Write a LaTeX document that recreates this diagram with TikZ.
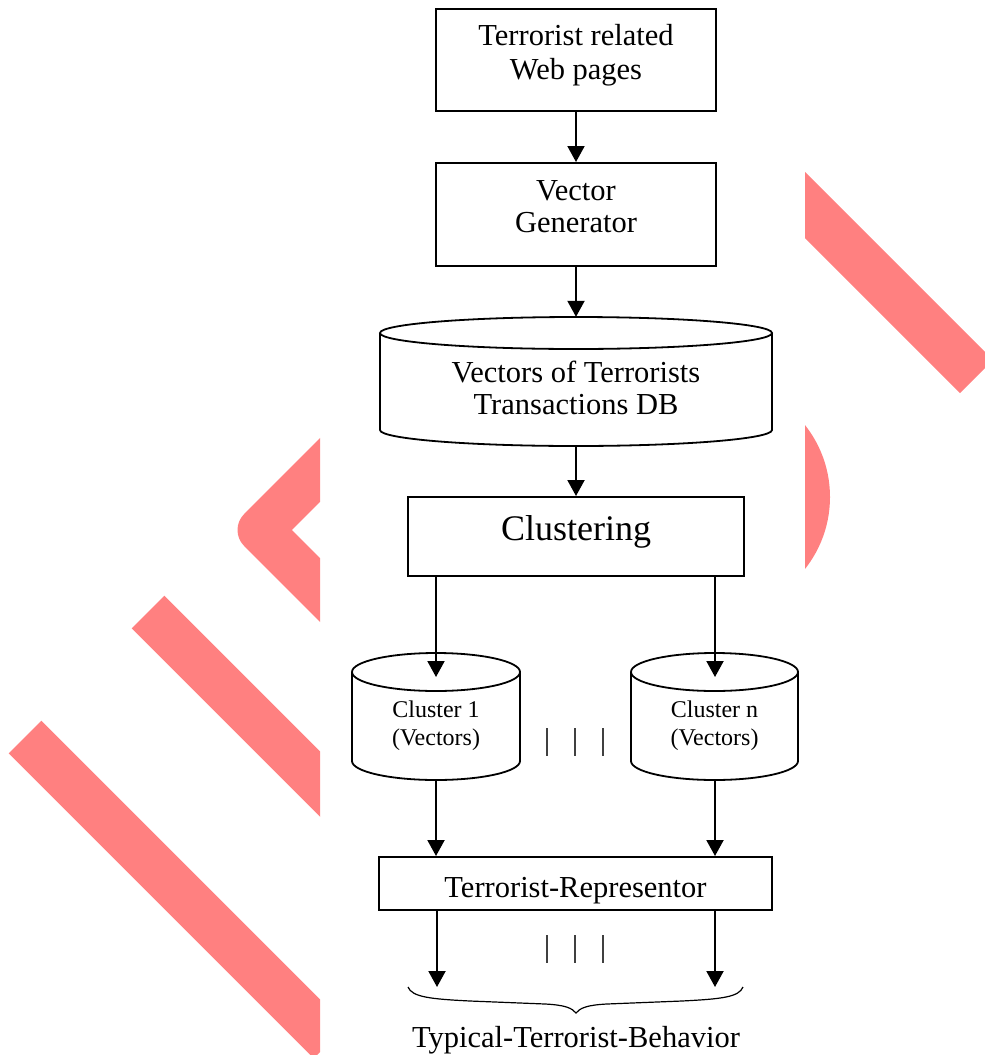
\documentclass[tikz,border=0pt]{standalone}
\usepackage{fontspec}
\setmainfont{Liberation Serif}
\usetikzlibrary{arrows.meta}
\definecolor{wm}{RGB}{255,128,128}
% cylinder outline: #1 cx, #2 rx, #3 y of top ellipse centre, #4 y of bottom arc centre, #5 ry
\newcommand\cylpath[5]{%
  \draw[cylline] (#1-#2,#3) .. controls (#1-#2,#3-0.5523*#5) and (#1-0.5523*#2,#3-#5) .. (#1,#3-#5)
     .. controls (#1+0.5523*#2,#3-#5) and (#1+#2,#3-0.5523*#5) .. (#1+#2,#3)
     .. controls (#1+#2,#3+0.5523*#5) and (#1+0.5523*#2,#3+#5) .. (#1,#3+#5)
     .. controls (#1-0.5523*#2,#3+#5) and (#1-#2,#3+0.5523*#5) .. (#1-#2,#3) -- cycle;
  \draw[cylline] (#1-#2,#3) -- (#1-#2,#4) .. controls (#1-#2,#4+0.5523*#5) and (#1-0.5523*#2,#4+#5) .. (#1,#4+#5)
     .. controls (#1+0.5523*#2,#4+#5) and (#1+#2,#4+0.5523*#5) .. (#1+#2,#4) -- (#1+#2,#3);
}
\tikzset{
  box/.style={draw, line width=2pt, inner sep=0pt},
  ghost/.style={inner sep=0pt},
  txt/.style={inner sep=0pt, anchor=base, font=\fontsize{30.5}{35}\selectfont},
  smalltxt/.style={inner sep=0pt, anchor=base, font=\fontsize{24}{28}\selectfont},
  bigtxt/.style={inner sep=0pt, anchor=base, font=\fontsize{36}{40}\selectfont},
  arr/.style={line width=2pt, -{Triangle[length=16pt,width=17pt]}},
  cylline/.style={line width=1.8pt},
  wmstroke/.style={draw=wm, line width=46pt},
  dotline/.style={line width=1.5pt, draw=black!75}
}
\begin{document}
\begin{tikzpicture}[x=1pt,y=-1pt]
\useasboundingbox (0,0) rectangle (985,1055);
\fill[white] (0,0) rectangle (985,1055);

% watermark remnants, left band
\begin{scope}
  \clip (0,0) rectangle (320,1055);
  \draw[wmstroke, line width=45pt, line join=round] (400,390) -- (260,530) -- (400,670);
  \draw[wmstroke] (148,612) -- (420,884);
  \draw[wmstroke] (25,737) -- (330,1042);
\end{scope}
% watermark remnants, right band
\begin{scope}
  \clip (805,0) rectangle (985,1055);
  \draw[wmstroke, line width=46.7pt] (600,0) -- (976.5,376.5);
  \fill[wm] (714,497) circle[radius=116pt];
\end{scope}

% boxes
\node[box, minimum width=280pt, minimum height=102pt] (web) at (576,60) {};
\node[txt] (webA) at (576,45) {Terrorist related};
\node[txt] (webB) at (576,79) {Web pages};

\node[box, minimum width=280pt, minimum height=103pt] (gen) at (576,214.5) {};
\node[txt] (genA) at (576,200) {Vector};
\node[txt] (genB) at (576,232) {Generator};

\node[ghost, minimum width=392pt, minimum height=129pt] (db) at (576,381.5) {};
\cylpath{576}{196}{333}{430}{16}
\node[txt] (dbA) at (576,382) {Vectors of Terrorists};
\node[txt] (dbB) at (576,414) {Transactions DB};

\node[box, minimum width=336pt, minimum height=79pt] (clu) at (576,536.5) {};
\node[bigtxt] (cluA) at (576,540) {Clustering};

\node[ghost, minimum width=168pt, minimum height=127pt] (c1) at (436,716.5) {};
\cylpath{436}{84}{672}{761}{19}
\node[smalltxt] (c1A) at (436,717) {Cluster 1};
\node[smalltxt] (c1B) at (436,745) {(Vectors)};

\node[ghost, minimum width=167pt, minimum height=127pt] (cn) at (714.5,716.5) {};
\cylpath{714.5}{83.5}{672}{761}{19}
\node[smalltxt] (cnA) at (714.5,717) {Cluster n};
\node[smalltxt] (cnB) at (714.5,745) {(Vectors)};

\node[box, minimum width=393pt, minimum height=53pt] (rep) at (575.5,883.5) {};
\node[txt] (repA) at (575.5,897) {Terrorist-Representor};

\node[txt] (beh) at (576,1047) {Typical-Terrorist-Behavior};

% free arrow ends
\coordinate (c1in) at (436,677);
\coordinate (cnin) at (715,677);
\coordinate (t1) at (437,987);
\coordinate (tn) at (715,987);

% connectors
\draw[arr] (web.south) -- (gen.north);
\draw[arr] (gen.south) -- (db.north);
\draw[arr] (db.south) -- (clu.north);
\draw[arr] (clu.south -| c1in) -- (c1in);
\draw[arr] (clu.south -| cnin) -- (cnin);
\draw[arr] (c1.south) -- (rep.north -| c1.south);
\draw[arr] (cn.south -| cnin) -- (rep.north -| cnin);
\draw[arr] (rep.south -| t1) -- (t1);
\draw[arr] (rep.south -| tn) -- (tn);

% ellipsis bars
\foreach \x in {547,575,603} {
  \draw[dotline] (\x,728) -- (\x,756);
  \draw[dotline] (\x,935) -- (\x,963);
}

% brace
\draw[line width=1.2pt] (408,987) .. controls (412,997) and (430,999) .. (470,1001)
  -- (545,1004) .. controls (565,1005) and (572,1008) .. (576,1013)
  .. controls (580,1008) and (587,1005) .. (607,1004)
  -- (682,1001) .. controls (722,999) and (739,997) .. (743,987);
\end{tikzpicture}
\end{document}
